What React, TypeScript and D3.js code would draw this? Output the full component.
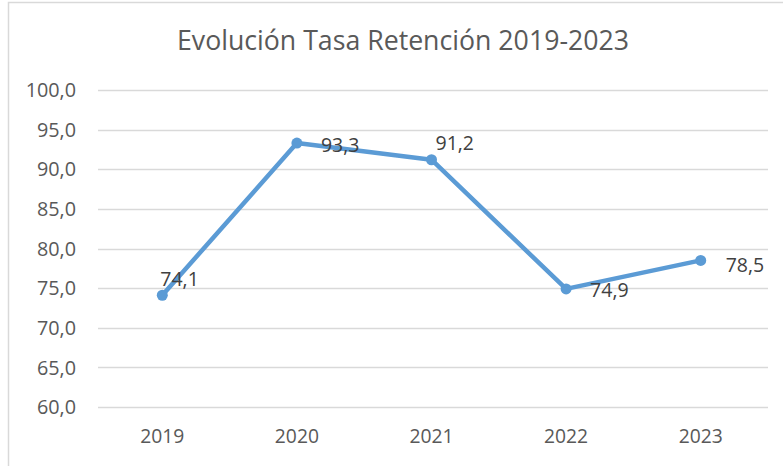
import React from "react";
import * as d3 from "d3";

const years = ["2019", "2020", "2021", "2022", "2023"];
const retention = [74.1, 93.3, 91.2, 74.9, 78.5];
const yTicks = [60, 65, 70, 75, 80, 85, 90, 95, 100];
const labelOffsets: [number, number][] = [
  [-2, -9],
  [24, 9],
  [4, -10],
  [24, 8],
  [25, 12],
];
const title = "Evolución Tasa Retención 2019-2023";

const W = 783;
const H = 466;
const FONT = "'Open Sans', 'Noto Sans', sans-serif";

export default function App() {
  const x = d3.scaleBand<string>().domain(years).range([95, 768]);
  const y = d3.scaleLinear().domain([60, 100]).range([407, 90]);
  const fmt = (v: number) => v.toFixed(1).replace(".", ",");
  const cx = (d: string) => (x(d) as number) + x.bandwidth() / 2;
  const line = d3
    .line<number>()
    .x((_, i) => cx(years[i]))
    .y((v) => y(v));

  return (
    <svg
      width={W}
      height={H}
      style={{ position: "absolute", left: 0, top: 0, background: "#fff" }}
      fontFamily={FONT}
    >
      <rect x={0} y={0} width={W} height={H} fill="#fff" />
      <rect x={8.5} y={2.5} width={W + 10} height={H + 10} fill="#fff" stroke="#d9d9d9" strokeWidth={1.5} />
      <text x={403} y={50} textAnchor="middle" fontSize={26.7} fill="#595959">
        {title}
      </text>
      {yTicks.map((t) => (
        <g key={t}>
          <line x1={98} x2={768} y1={Math.round(y(t)) + 0.5} y2={Math.round(y(t)) + 0.5} stroke="#d9d9d9" strokeWidth={1.3} />
          <text x={76} y={y(t)} dy="0.36em" textAnchor="end" fontSize={19.8} fill="#595959">
            {fmt(t)}
          </text>
        </g>
      ))}
      {years.map((yr) => (
        <text key={yr} x={cx(yr)} y={443} textAnchor="middle" fontSize={19.3} fill="#595959">
          {yr}
        </text>
      ))}
      <path d={line(retention) || ""} fill="none" stroke="#5B9BD5" strokeWidth={4.5} strokeLinejoin="round" strokeLinecap="round" />
      {retention.map((v, i) => (
        <circle key={i} cx={cx(years[i])} cy={y(v)} r={5.5} fill="#5B9BD5" />
      ))}
      {retention.map((v, i) => (
        <text
          key={"l" + i}
          x={cx(years[i]) + labelOffsets[i][0]}
          y={y(v) + labelOffsets[i][1]}
          fontSize={19.5}
          fill="#404040"
        >
          {fmt(v)}
        </text>
      ))}
    </svg>
  );
}
